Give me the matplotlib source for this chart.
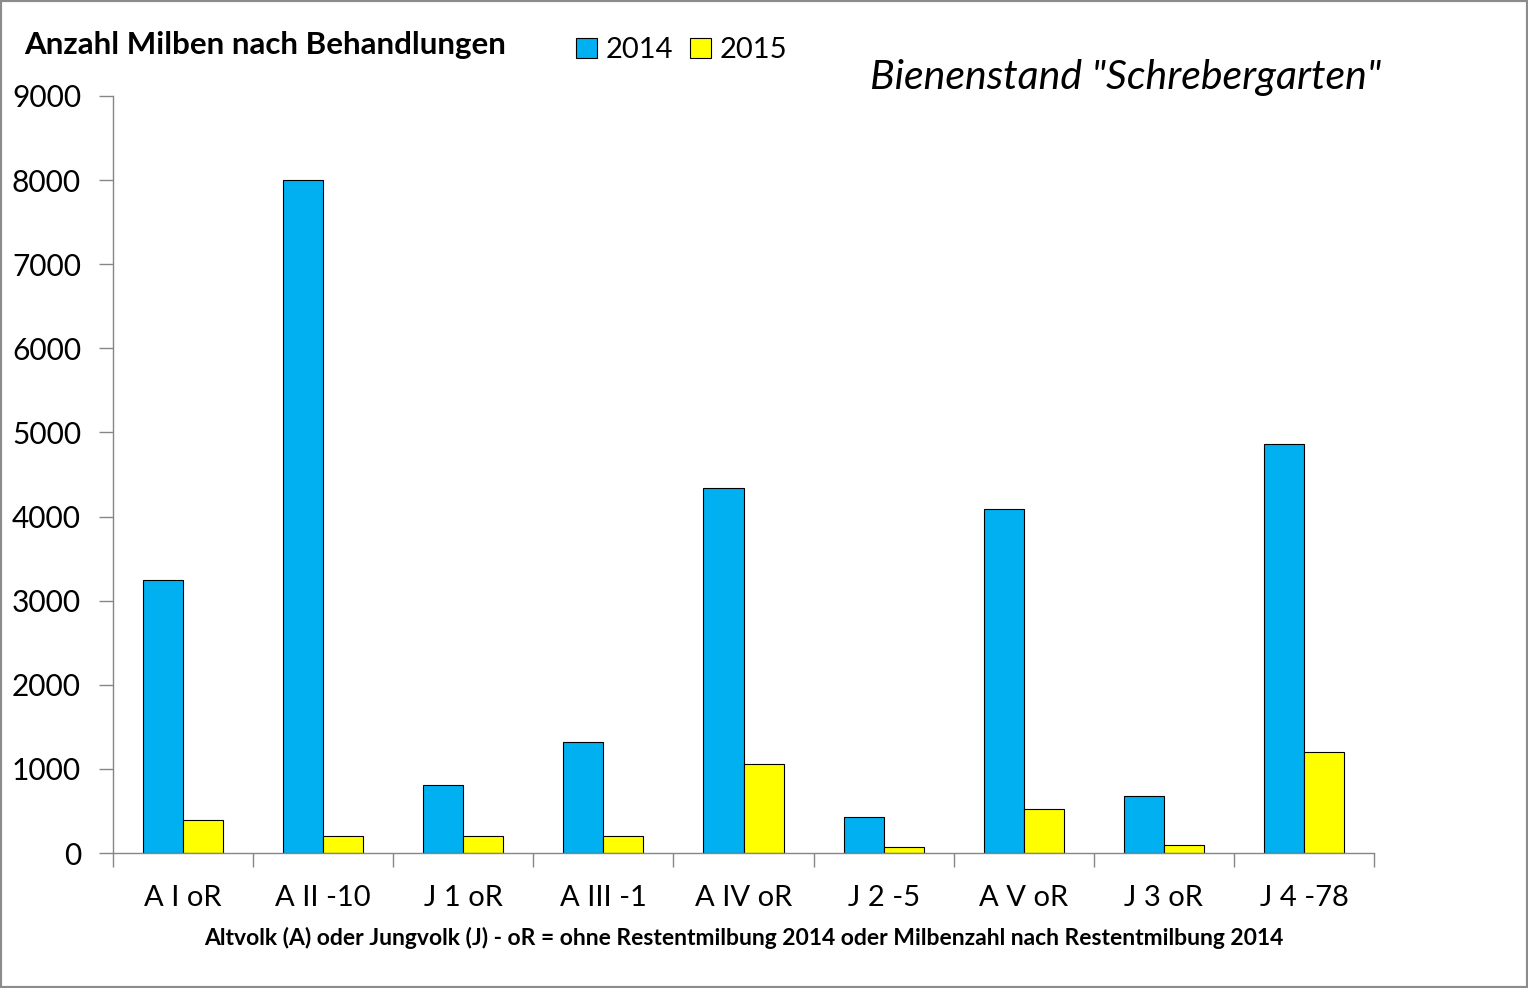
import matplotlib
matplotlib.use("Agg")
import matplotlib.pyplot as plt
import numpy as np
from matplotlib.patches import Rectangle

categories = ["A I oR", "A II -10", "J 1 oR", "A III -1", "A IV oR", "J 2 -5", "A V oR", "J 3 oR", "J 4 -78"]
values_2014 = [3250, 8000, 810, 1320, 4340, 430, 4090, 680, 4860]
values_2015 = [390, 200, 200, 200, 1060, 70, 520, 100, 1200]
series_labels = ["2014", "2015"]
yticks = [0, 1000, 2000, 3000, 4000, 5000, 6000, 7000, 8000, 9000]

plt.rcParams['font.family'] = ['Lato', 'DejaVu Sans']

W, H = 1528, 988
fig = plt.figure(figsize=(W / 100, H / 100), dpi=100)
ax = fig.add_axes([113 / W, (H - 853) / H, (1374 - 113) / W, (853 - 96) / H])

gray = "#868686"
x = np.arange(len(categories))
bw = 0.286
b1 = ax.bar(x - bw / 2, values_2014, bw, color="#00B0F0", edgecolor="black", linewidth=0.8, label=series_labels[0])
b2 = ax.bar(x + bw / 2, values_2015, bw, color="#FFFF00", edgecolor="black", linewidth=0.8, label=series_labels[1])

ax.set_xlim(-0.5, len(categories) - 0.5)
ax.set_ylim(0, 9000)
ax.set_yticks(yticks)
ax.set_yticklabels([str(v) for v in yticks], fontsize=21.5)
ax.set_xticks(x)
ax.set_xticklabels(categories, fontsize=21)
ax.set_xticks(np.arange(-0.5, len(categories), 1.0), minor=True)
ax.tick_params(axis="x", which="major", length=0, pad=23)
ax.tick_params(axis="x", which="minor", length=10, width=1, color=gray, direction="out")
ax.tick_params(axis="y", which="major", length=10, width=1, color=gray, direction="out", pad=13)

for s in ["top", "right"]:
    ax.spines[s].set_visible(False)
for s in ["left", "bottom"]:
    ax.spines[s].set_color(gray)
    ax.spines[s].set_linewidth(1)

fig.text(0.5 * (197 + 1290) / W, 1 - 938 / H,
         "Altvolk (A) oder Jungvolk (J) - oR = ohne Restentmilbung 2014 oder Milbenzahl nach Restentmilbung 2014",
         ha="center", va="center", fontsize=16.5, fontweight="bold")

fig.text(24 / W, 1 - 45 / H, "Anzahl Milben nach Behandlungen", ha="left", va="center",
         fontsize=22.5, fontweight="bold")

fig.text(870 / W, 1 - 78 / H, 'Bienenstand "Schrebergarten"', ha="left", va="center",
         fontsize=29.5, style="italic")

leg = fig.legend(handles=[b1, b2], labels=series_labels, loc="center left",
                 bbox_to_anchor=(550 / W, 1 - 50 / H), ncol=2, frameon=False, fontsize=21,
                 handlelength=0.7, handleheight=0.7, handletextpad=0.3, columnspacing=0.6)

fig.patches.append(Rectangle((0, 0), 1, 1, transform=fig.transFigure, fill=False,
                             edgecolor="#8c8c8c", linewidth=3))

fig.savefig("out.png", dpi=100)
